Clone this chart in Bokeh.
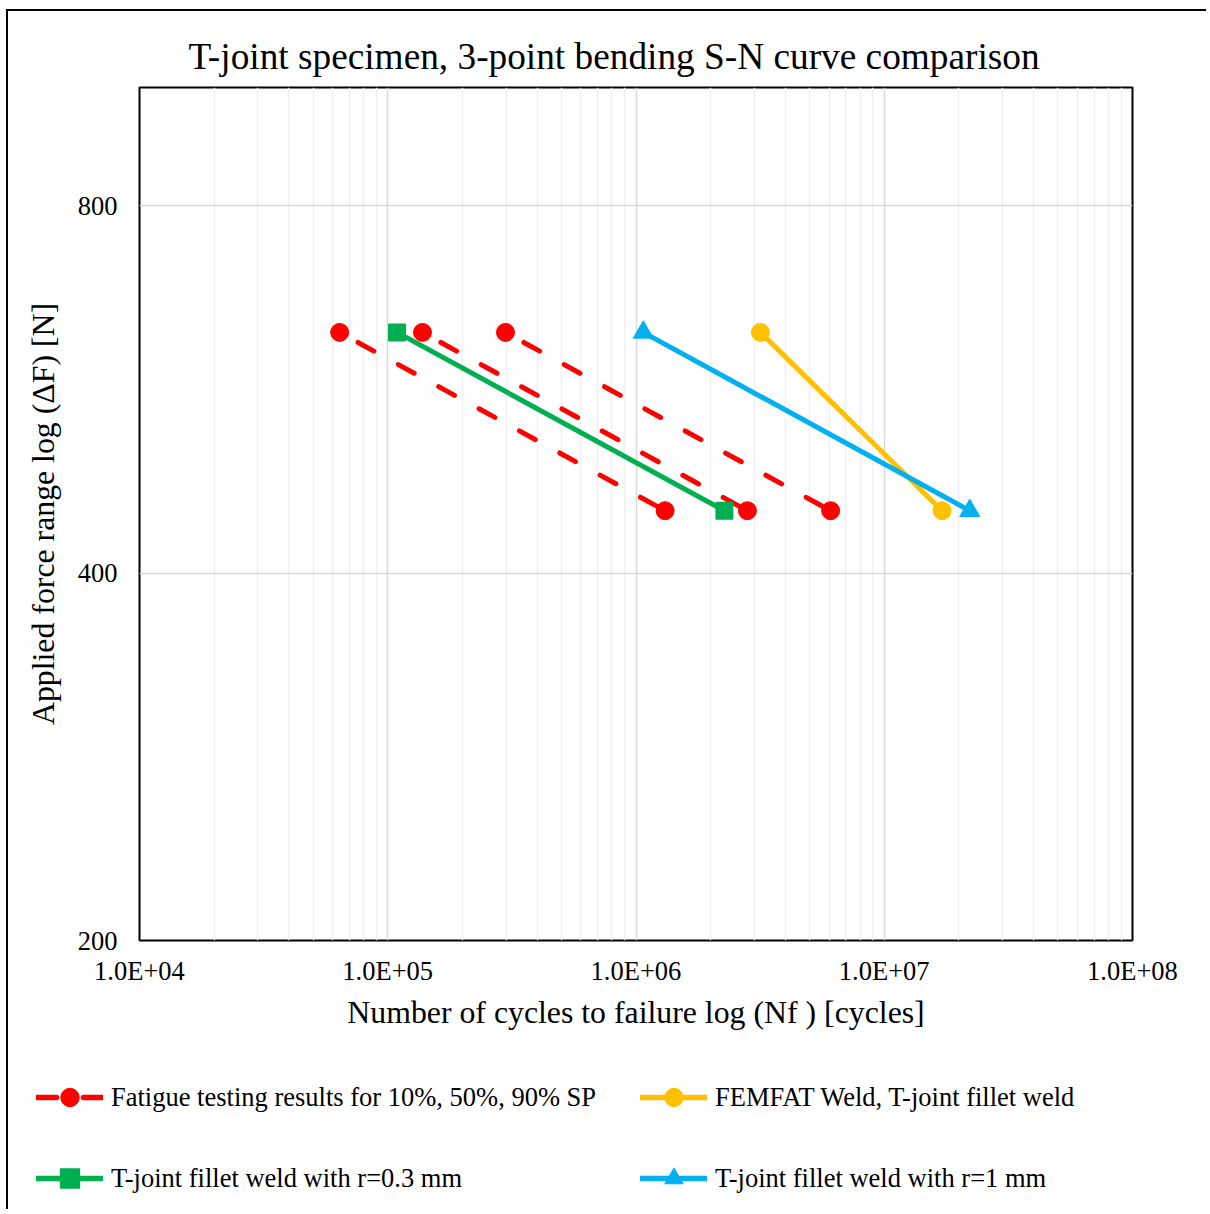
from bokeh.plotting import figure
from bokeh.models import Range1d, FixedTicker, Legend, LegendItem
from bokeh.embed import file_html
from bokeh.resources import INLINE

# ---------------- data ----------------
force_levels = [630, 450]                 # applied force range [N]
sp10_cycles = [6.4e4, 1.31e6]             # 10% survival probability
sp50_cycles = [1.38e5, 2.81e6]            # 50% survival probability
sp90_cycles = [2.98e5, 6.08e6]            # 90% survival probability
femfat_cycles = [3.17e6, 1.71e7]          # FEMFAT Weld
r03_cycles = [1.09e5, 2.27e6]             # fillet weld r=0.3 mm
r1_cycles = [1.07e6, 2.21e7]              # fillet weld r=1 mm

x_ticks = [1e4, 1e5, 1e6, 1e7, 1e8]
x_tick_labels = ["1.0E+04", "1.0E+05", "1.0E+06", "1.0E+07", "1.0E+08"]
y_ticks = [200, 400, 800]
y_tick_labels = ["200", "400", "800"]

series_labels = [
    "Fatigue testing results for 10%, 50%, 90% SP",
    "FEMFAT Weld, T-joint fillet weld",
    "T-joint fillet weld with r=0.3 mm",
    "T-joint fillet weld with r=1 mm",
]
title_text = "T-joint specimen, 3-point bending S-N curve comparison"
x_label = "Number of cycles to failure log (Nf ) [cycles]"
y_label = "Applied force range log (\u0394F) [N]"

# ---------------- styling ----------------
FONT = "Liberation Serif"
RED, ORANGE, GREEN, BLUE = "#FF0000", "#FFC000", "#00B050", "#00B0F0"

p = figure(width=1200, height=1050, x_axis_type="log", y_axis_type="log",
           x_range=Range1d(1e4, 1e8), y_range=Range1d(200, 1000),
           output_backend="svg", toolbar_location=None,
           min_border_left=131, min_border_right=76,
           min_border_top=76, min_border_bottom=121)
p.styles = {"margin-left": "6px", "margin-top": "9px",
            "border-left": "2px solid black", "border-top": "2px solid black"}

p.title.text = title_text
p.title.text_font = FONT
p.title.text_font_size = "37.3px"
p.title.text_font_style = "normal"
p.title.text_color = "black"
p.title.align = "left"
p.title.offset = 49
p.title.standoff = 22

p.outline_line_color = "black"
p.outline_line_width = 2
p.background_fill_color = "white"
p.border_fill_color = "white"

x_minor = [m * 10 ** e for e in range(4, 8) for m in range(2, 10)]
p.xaxis.ticker = FixedTicker(ticks=x_ticks, minor_ticks=x_minor)
p.yaxis.ticker = FixedTicker(ticks=y_ticks, minor_ticks=[])
p.xaxis.major_label_overrides = {int(t): l for t, l in zip(x_ticks, x_tick_labels)}
p.yaxis.major_label_overrides = {int(t): l for t, l in zip(y_ticks, y_tick_labels)}

for ax in (p.xaxis, p.yaxis):
    ax.axis_line_color = None
    ax.major_tick_line_color = None
    ax.minor_tick_line_color = None
    ax.major_tick_out = 0
    ax.major_tick_in = 0
    ax.minor_tick_out = 0
    ax.major_label_text_font = FONT
    ax.major_label_text_font_size = "26.5px"
    ax.major_label_text_color = "black"
    ax.axis_label_text_font = FONT
    ax.axis_label_text_font_size = "31.8px"
    ax.axis_label_text_font_style = "normal"
    ax.axis_label_text_color = "black"

p.xaxis.axis_label = x_label
p.yaxis.axis_label = y_label
p.xaxis.major_label_standoff = 15
p.xaxis.axis_label_standoff = 6
p.yaxis.major_label_standoff = 22
p.yaxis.axis_label_standoff = 14

p.xgrid.grid_line_color = "#d9d9d9"
p.xgrid.grid_line_width = 1.5
p.xgrid.minor_grid_line_color = "#efefef"
p.xgrid.minor_grid_line_width = 1.5
p.ygrid.grid_line_color = "#d9d9d9"
p.ygrid.grid_line_width = 1.5

# ---------------- glyphs ----------------
for xs in (sp10_cycles, sp50_cycles, sp90_cycles):
    p.line(xs, force_levels, line_color=RED, line_width=5, line_dash="18 28",
           line_dash_offset=25, line_cap="round")
sp_x = sp10_cycles + sp50_cycles + sp90_cycles
sp_y = force_levels * 3
p.scatter(sp_x, sp_y, marker="circle", size=18, fill_color=RED, line_color=RED)

p.line(femfat_cycles, force_levels, line_color=ORANGE, line_width=5, line_cap="round")
p.scatter(femfat_cycles, force_levels, marker="circle", size=18,
          fill_color=ORANGE, line_color=ORANGE)

p.line(r03_cycles, force_levels, line_color=GREEN, line_width=5, line_cap="round")
p.scatter(r03_cycles, force_levels, marker="square", size=16,
          fill_color=GREEN, line_color=GREEN, line_width=2, line_join="round")

p.line(r1_cycles, force_levels, line_color=BLUE, line_width=5, line_cap="round")
p.scatter(r1_cycles, force_levels, marker="triangle", size=20,
          fill_color=BLUE, line_color=BLUE, line_width=1, line_join="round")

# ---------------- legend strip (hidden copies of the series) ----------------
q = figure(width=1200, height=150, output_backend="svg", toolbar_location=None,
           x_range=Range1d(0, 1), y_range=Range1d(0, 1),
           min_border=0, min_border_left=0, min_border_right=0,
           min_border_top=0, min_border_bottom=0)
q.styles = {"margin-left": "6px", "border-left": "2px solid black"}
q.axis.visible = False
q.grid.visible = False
q.outline_line_color = None
q.background_fill_color = "white"
q.border_fill_color = "white"

lr = q.line(sp50_cycles, force_levels, line_color=RED, line_width=5.5,
            line_cap="round", line_dash="20 27", visible=False)
lrp = q.scatter(sp_x, sp_y, marker="circle", size=18, fill_color=RED, line_color=RED, visible=False)
lo = q.line(femfat_cycles, force_levels, line_color=ORANGE, line_width=5.5, line_cap="round", visible=False)
lop = q.scatter(femfat_cycles, force_levels, marker="circle", size=18,
                fill_color=ORANGE, line_color=ORANGE, visible=False)
lg = q.line(r03_cycles, force_levels, line_color=GREEN, line_width=5.5, line_cap="round", visible=False)
lgp = q.scatter(r03_cycles, force_levels, marker="square", size=16, fill_color=GREEN,
                line_color=GREEN, line_width=2, line_join="round", visible=False)
lb = q.line(r1_cycles, force_levels, line_color=BLUE, line_width=5.5, line_cap="round", visible=False)
lbp = q.scatter(r1_cycles, force_levels, marker="triangle", size=20, fill_color=BLUE,
                line_color=BLUE, line_width=1, line_join="round", visible=False)

items = [
    LegendItem(label=series_labels[0], renderers=[lr, lrp]),
    LegendItem(label=series_labels[1], renderers=[lo, lop]),
    LegendItem(label=series_labels[2], renderers=[lg, lgp]),
    LegendItem(label=series_labels[3], renderers=[lb, lbp]),
]
legend = Legend(items=items, location=(28, 8), orientation="horizontal", ncols=2,
                glyph_width=67, glyph_height=46, label_standoff=8, label_width=494,
                spacing=35, padding=0, margin=0,
                border_line_color=None, background_fill_alpha=0,
                label_text_font=FONT, label_text_font_size="26.5px",
                label_text_color="black", click_policy="none",
                inactive_fill_alpha=0)
q.add_layout(legend)

open("out.html", "w").write(file_html([p, q], INLINE))
